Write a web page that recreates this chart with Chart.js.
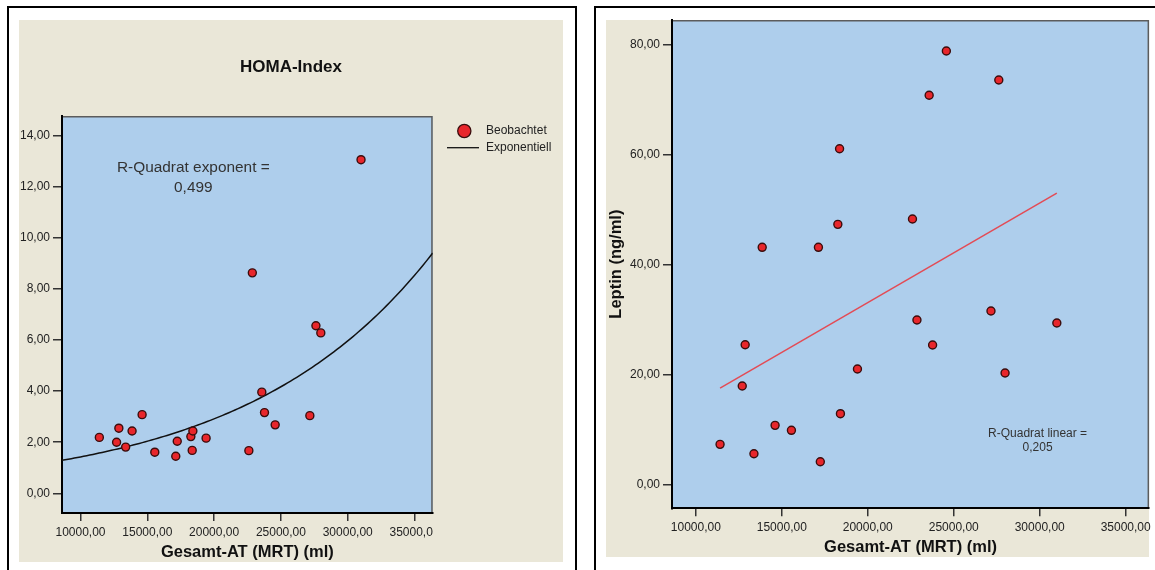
<!DOCTYPE html>
<html>
<head>
<meta charset="utf-8">
<title>HOMA-Index und Leptin vs. Gesamt-AT</title>
<script src="https://cdn.jsdelivr.net/npm/chart.js@4.4.1/dist/chart.umd.min.js"></script>
<style>
  html, body { margin: 0; padding: 0; background: #fff; width: 1155px; height: 570px; overflow: hidden; position: relative; }
  .frame { position: absolute; border: 2px solid #000; box-sizing: border-box; }
  .bg { position: absolute; background: #EAE7D8; }
  .holder { position: absolute; }
</style>
</head>
<body>
<div class="frame" style="left:7px;top:6px;width:570px;height:600px"></div>
<div class="bg" style="left:19px;top:20px;width:544px;height:542px"></div>
<div class="frame" style="left:594px;top:6px;width:620px;height:600px"></div>
<div class="bg" style="left:606px;top:20px;width:543px;height:537px"></div>

<div class="holder" style="left:19px;top:20px;width:544px;height:550px"><canvas id="homaChart"></canvas></div>
<div class="holder" style="left:606px;top:18px;width:549px;height:552px"><canvas id="leptinChart"></canvas></div>

<script>
// Gesamt-AT (MRT) in ml, one value per subject
const gesamtAT = [11410, 12700, 12870, 13380, 13860, 14610, 15560, 17130, 17240, 18260, 18360,
                  18410, 19400, 22600, 22860, 23570, 23770, 24570, 27165, 27620, 27985, 30995];
// HOMA-Index per subject
const homaIndex = [2.19, 2.00, 2.55, 1.81, 2.44, 3.08, 1.61, 1.45, 2.04, 2.22, 1.68,
                   2.44, 2.16, 1.67, 8.63, 3.96, 3.16, 2.68, 3.04, 6.56, 6.28, 13.06];
// Leptin (ng/ml) per subject
const leptin = [7.27, 17.87, 25.38, 5.56, 43.09, 10.72, 9.82, 43.09, 4.11, 47.27, 61.02,
                12.84, 20.96, 48.24, 29.87, 70.73, 25.33, 78.78, 31.51, 73.51, 20.24, 29.33];

// Tick values
const xTicks = [10000, 15000, 20000, 25000, 30000, 35000];
const homaTicks = [0, 2, 4, 6, 8, 10, 12, 14];
const leptinTicks = [0, 20, 40, 60, 80];

// Axis ranges
const X_MIN = 8615, X_MAX = 36360;
const HOMA_MIN = -0.77, HOMA_MAX = 14.77;
const LEPTIN_MIN = -4.36, LEPTIN_MAX = 84.42;

// Fit annotations
const homaFitLabel = ['R-Quadrat exponent =', '0,499'];
const leptinFitLabel = ['R-Quadrat linear =', '0,205'];

// ---- styling ----
const FONT = "'Liberation Sans', Arial, Helvetica, sans-serif";
const PLOT_BG = '#AECEEC';
const POINT_FILL = '#E8262B';
const POINT_EDGE = '#3A0D0D';
const TEXT = '#222';
Chart.defaults.font.family = FONT;
Chart.defaults.color = TEXT;

const fmt = v => Number(v).toFixed(2).replace('.', ',');
const setTicks = arr => scale => { scale.ticks = arr.map(v => ({ value: v })); };

// ---- fits computed from the observations ----
function linearFit(xs, ys) {
  const n = xs.length;
  const mx = xs.reduce((s, v) => s + v, 0) / n;
  const my = ys.reduce((s, v) => s + v, 0) / n;
  let sxy = 0, sxx = 0;
  for (let i = 0; i < n; i++) { sxy += (xs[i] - mx) * (ys[i] - my); sxx += (xs[i] - mx) ** 2; }
  const b = sxy / sxx;
  return { a: my - b * mx, b };
}
const expParams = linearFit(gesamtAT, homaIndex.map(Math.log));
const expCurve = [];
for (let i = 0; i <= 120; i++) {
  const x = X_MIN + (X_MAX - X_MIN) * i / 120;
  expCurve.push({ x, y: Math.exp(expParams.a + expParams.b * x) });
}
const linParams = linearFit(gesamtAT, leptin);
const xLo = Math.min(...gesamtAT), xHi = Math.max(...gesamtAT);
const linLine = [{ x: xLo, y: linParams.a + linParams.b * xLo }, { x: xHi, y: linParams.a + linParams.b * xHi }];

// ---- shared pieces ----
function xAxis(height) {
  return {
    type: 'linear', position: 'bottom', min: X_MIN, max: X_MAX,
    afterBuildTicks: setTicks(xTicks),
    afterFit: s => { s.height = height; },
    ticks: { callback: fmt, font: { size: 12 }, color: TEXT, padding: 4, maxRotation: 0, autoSkip: false },
    grid: { display: true, drawOnChartArea: false, drawTicks: true, tickLength: 8, color: '#333', lineWidth: 1.5 },
    border: { display: true, color: '#000', width: 2 },
    title: { display: true, text: 'Gesamt-AT (MRT) (ml)', font: { size: 16.5, weight: 'bold' }, color: '#111', padding: 0 }
  };
}
function yAxis(min, max, ticks, width, title) {
  return {
    type: 'linear', position: 'left', min, max,
    afterBuildTicks: setTicks(ticks),
    // fixed axis width; the end labels sit well inside the plot, so no extra room is reserved for them
    afterFit: s => { s.width = width; s.paddingTop = 0; s.paddingBottom = 0; },
    ticks: { callback: fmt, font: { size: 12 }, color: TEXT, padding: 3, autoSkip: false },
    grid: { display: true, drawOnChartArea: false, drawTicks: true, tickLength: 9, color: '#333', lineWidth: 1.5 },
    border: { display: true, color: '#000', width: 2 },
    title: title
  };
}
const plotFrame = {
  id: 'plotFrame',
  beforeDraw(chart) {
    const { ctx, chartArea: a } = chart;
    ctx.save();
    ctx.fillStyle = PLOT_BG;
    ctx.fillRect(a.left, a.top, a.right - a.left, a.bottom - a.top);
    ctx.strokeStyle = '#5c5c5c';
    ctx.lineWidth = 1.5;
    ctx.beginPath();
    ctx.moveTo(a.left, a.top + 0.75);
    ctx.lineTo(a.right - 0.75, a.top + 0.75);
    ctx.lineTo(a.right - 0.75, a.bottom);
    ctx.stroke();
    ctx.restore();
  }
};
function drawNote(chart, lines, at, size, gap) {
  const { ctx } = chart;
  const cx = chart.scales.x.getPixelForValue(at.x);
  const cy = chart.scales.y.getPixelForValue(at.y);
  ctx.save();
  ctx.font = size + 'px ' + FONT;
  ctx.fillStyle = '#333';
  ctx.textAlign = 'center';
  ctx.textBaseline = 'middle';
  ctx.fillText(lines[0], cx, cy - gap / 2);
  ctx.fillText(lines[1], cx, cy + gap / 2);
  ctx.restore();
}
const pointStyle = {
  pointRadius: 4, pointHoverRadius: 4, pointBorderWidth: 1.4,
  pointBackgroundColor: POINT_FILL, pointBorderColor: POINT_EDGE, showLine: false
};

// ---- HOMA-Index chart ----
const homaExtras = {
  id: 'homaExtras',
  afterDraw(chart) {
    const { ctx, chartArea: a, width, height } = chart;
    // x tick labels stop at the plot's right edge
    ctx.clearRect(a.right + 0.5, a.bottom + 1.5, width, height);
    // legend
    ctx.save();
    const lx = a.right, ly = a.top;
    ctx.beginPath();
    ctx.arc(lx + 31.6, ly + 15, 6.6, 0, Math.PI * 2);
    ctx.fillStyle = POINT_FILL; ctx.fill();
    ctx.lineWidth = 1.3; ctx.strokeStyle = POINT_EDGE; ctx.stroke();
    ctx.beginPath();
    ctx.moveTo(lx + 14.3, ly + 31.7); ctx.lineTo(lx + 46.3, ly + 31.7);
    ctx.lineWidth = 1.3; ctx.strokeStyle = '#111'; ctx.stroke();
    ctx.font = '12px ' + FONT;
    ctx.fillStyle = TEXT; ctx.textAlign = 'left'; ctx.textBaseline = 'middle';
    ctx.fillText('Beobachtet', lx + 53.3, ly + 15);
    ctx.fillText('Exponentiell', lx + 53.3, ly + 31.7);
    ctx.restore();
    drawNote(chart, homaFitLabel, { x: 18443, y: 12.34 }, 15.4, 20);
  }
};

new Chart(document.getElementById('homaChart'), {
  type: 'scatter',
  data: {
    datasets: [
      Object.assign({ label: 'Beobachtet', data: gesamtAT.map((x, i) => ({ x, y: homaIndex[i] })) }, pointStyle),
      { label: 'Exponentiell', data: expCurve, showLine: true, pointRadius: 0, pointHoverRadius: 0,
        borderColor: '#111', borderWidth: 1.5, fill: false, tension: 0 }
    ]
  },
  options: {
    responsive: true, maintainAspectRatio: false, animation: false,
    layout: { autoPadding: false, padding: { left: 0, right: 0, top: 0, bottom: 8 } },
    plugins: {
      legend: { display: false }, tooltip: { enabled: false },
      title: { display: true, text: 'HOMA-Index', color: '#111', font: { size: 17, weight: 'bold' },
               padding: { top: 37.3, bottom: 38.3 } }
    },
    scales: {
      x: xAxis(49),
      y: yAxis(HOMA_MIN, HOMA_MAX, homaTicks, 43, { display: false }),
      legendSpace: {
        type: 'linear', position: 'right', display: true,
        ticks: { display: false }, grid: { display: false }, border: { display: false },
        afterFit: s => { s.width = 130.3; s.paddingTop = 0; s.paddingBottom = 0; }
      }
    }
  },
  plugins: [plotFrame, homaExtras]
});

// ---- Leptin chart ----
const leptinExtras = {
  id: 'leptinExtras',
  afterDraw(chart) { drawNote(chart, leptinFitLabel, { x: 29877, y: 8.0 }, 12, 14); }
};

new Chart(document.getElementById('leptinChart'), {
  type: 'scatter',
  data: {
    datasets: [
      Object.assign({ label: 'Beobachtet', data: gesamtAT.map((x, i) => ({ x, y: leptin[i] })) }, pointStyle),
      { label: 'Linear', data: linLine, showLine: true, pointRadius: 0, pointHoverRadius: 0,
        borderColor: '#E34B55', borderWidth: 1.5, fill: false, tension: 0 }
    ]
  },
  options: {
    responsive: true, maintainAspectRatio: false, animation: false,
    layout: { autoPadding: false, padding: { left: 0, right: 5.7, top: 2, bottom: 13 } },
    plugins: { legend: { display: false }, tooltip: { enabled: false }, title: { display: false } },
    scales: {
      x: xAxis(48.7),
      y: yAxis(LEPTIN_MIN, LEPTIN_MAX, leptinTicks, 66,
        { display: true, text: 'Leptin (ng/ml)', color: '#111', font: { size: 16.5, weight: 'bold' }, padding: { top: 1, bottom: 0 } })
    }
  },
  plugins: [plotFrame, leptinExtras]
});
</script>
</body>
</html>
